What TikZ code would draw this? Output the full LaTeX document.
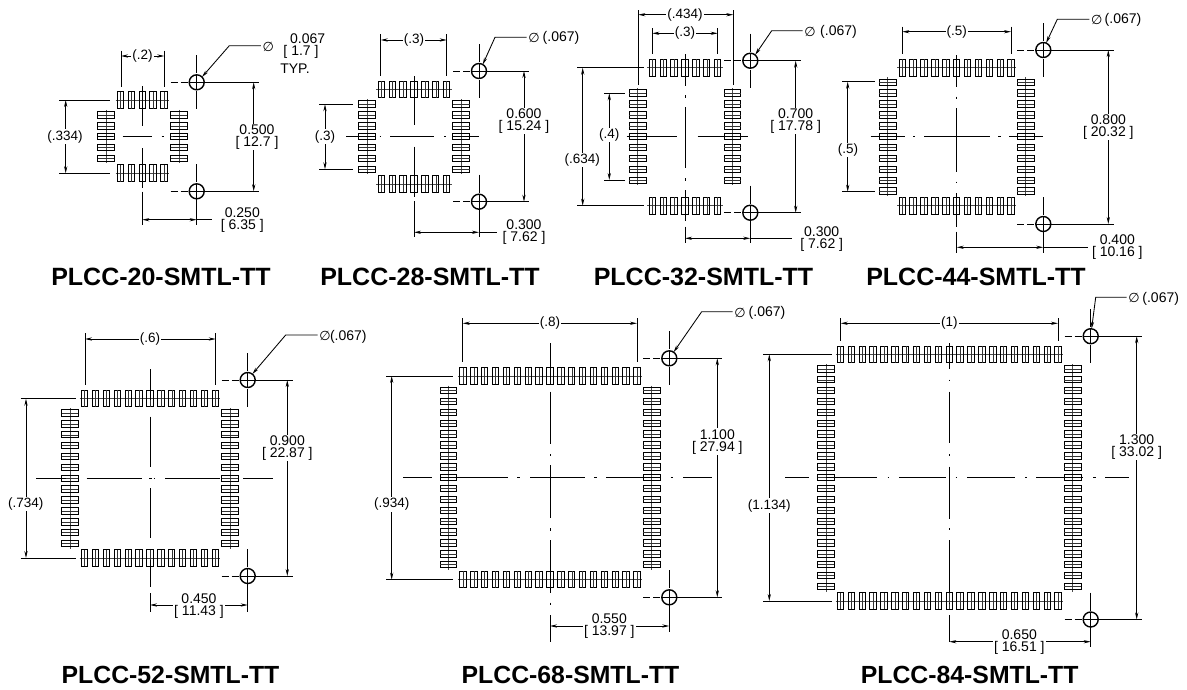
\documentclass[tikz,border=0pt]{standalone}
\usepackage{fontspec}
\setmainfont{Liberation Sans}
\newfontfamily\phifont{DejaVu Sans}
\newcommand{\phig}{\raisebox{-1pt}[\height][\depth]{\phifont\fontsize{13}{12}\selectfont ∅}}
\usetikzlibrary{arrows.meta}
\tikzset{
  ln/.style={line width=.85pt,black},
  dimln/.style={line width=.85pt,black,{Stealth[length=7pt,width=3.2pt]}-{Stealth[length=7pt,width=3.2pt]}},
  lead/.style={line width=.85pt,black,-{Stealth[length=7pt,width=3.2pt]}},
  cl/.style={line width=1pt,black},
  rowln/.style={line width=.55pt,black!70},
  padbox/.style={line width=1pt,black},
  padin/.style={line width=.5pt,black!80},
  holec/.style={circle,draw,line width=1.4pt,minimum size=15pt,inner sep=0pt,outer sep=0pt},
  dimt/.style={font=\fontsize{14}{12}\selectfont,align=center,fill=white,inner sep=1pt},
  part/.style={font=\fontsize{13.5}{12}\selectfont,fill=white,inner sep=1pt},
  plaint/.style={font=\fontsize{14}{12}\selectfont,align=center,inner sep=1pt},
  phit/.style={inner sep=1.5pt},
  title/.style={font=\fontsize{25}{25}\bfseries\selectfont,inner sep=0pt},
  titleb/.style={font=\fontsize{24.8}{25}\bfseries\selectfont,inner sep=0pt},
}
% #1 cx, #2 cy, #3 pads top, #4 pads side, #5 half y of top/bottom rows, #6 half x of side columns
\newcommand{\pads}[6]{%
  \pgfmathsetmacro{\topspan}{(#3-1)/2*10.88}
  \pgfmathsetmacro{\sidespan}{(#4-1)/2*10.88}
  \foreach \sgn in {-1,1}{%
    \pgfmathsetmacro{\ry}{#2+\sgn*#5}
    \pgfmathsetmacro{\rx}{#1+\sgn*#6}
    \draw[rowln] (#1-\topspan-5,\ry) -- (#1+\topspan+5,\ry);
    \draw[rowln] (\rx,#2-\sidespan-5) -- (\rx,#2+\sidespan+5);
    \foreach \i in {1,...,#3}{%
      \pgfmathsetmacro{\px}{#1-\topspan+(\i-1)*10.88}
      \draw[padbox] (\px-3.2,\ry-8.3) rectangle (\px+3.2,\ry+8.3);
      \draw[padin] (\px,\ry-8.3) -- (\px,\ry+8.3);
    }
    \foreach \i in {1,...,#4}{%
      \pgfmathsetmacro{\py}{#2-\sidespan+(\i-1)*10.88}
      \draw[padbox] (\rx-8.3,\py-3.2) rectangle (\rx+8.3,\py+3.2);
      \draw[padin] (\rx-8.3,\py) -- (\rx+8.3,\py);
    }
  }
}
\newcommand{\clh}[2]{\foreach \a/\b in {#2} \draw[cl] (\a,#1) -- (\b,#1);}
\newcommand{\clv}[2]{\foreach \a/\b in {#2} \draw[cl] (#1,\a) -- (#1,\b);}
% hole with its centre marks: #1 name, #2 x, #3 y
\newcommand{\hole}[3]{%
  \node[holec] (#1) at (#2,#3) {};
  \draw[ln] (#1.west) -- (#1.east) (#1.north) -- (#1.south);
  \draw[cl] (#2-26,#3) -- (#2-19,#3) (#2-16,#3) -- (#2-9,#3) (#2,#3-27) -- (#2,#3-9);
}
\newcommand{\holetop}[3]{\hole{#1}{#2}{#3}\draw[cl] (#2,#3+9) -- (#2,#3+27);}
\begin{document}
\begin{tikzpicture}[x=1pt,y=-1pt]
\useasboundingbox (0,0) rectangle (1187,689);

% ---------- PLCC-20
\pads{142.3}{136.7}{5}{5}{36.5}{36.5}
\clh{136.7}{97.7/113,122.7/151.7,161.7/164,173/188}
\clv{142.3}{86/126,148.3/188.3}
\holetop{h20a}{196.7}{82.3}
\hole{h20b}{196.7}{191.3}
\draw[ln] (121,50.7) -- (121,87) (164.3,50.7) -- (164.3,87);
\draw[dimln] (121,56) -- (164.3,56);
\node[part] (d20a) at (142.5,56) {(.2)};
\draw[ln] (59,100) -- (110,100) (59,173.3) -- (110,173.3);
\draw[dimln] (65.7,100) -- (65.7,173.3);
\node[part] (d20b) at (65,136.7) {(.334)};
\draw[ln] (h20a.east) -- (259,82.3) (h20b.east) -- (259,191.3);
\draw[dimln] (253.7,82.3) -- (253.7,191.3);
\node[dimt] (d20c) at (257,137) {0.500\\{}[ 12.7 ]};
\draw[ln] (142.3,191.7) -- (142.3,225) (h20b.south) -- (196.7,225);
\draw[dimln] (142.3,219.7) -- (196.7,219.7);
\draw[ln] (196.7,219.7) -- (211.7,219.7);
\node[dimt] (d20d) at (242.3,220.3) {0.250\\{}[ 6.35 ]};
\node[phit] (p20) at (268.3,45.7) {\phig};
\draw[lead] (p20.west) -- (229.3,45.7) -- (h20a.45);
\node[plaint] (v20a) at (301,46) {\hspace*{13.4pt}0.067\\{}[ 1.7 ]};
\node[plaint] (v20c) at (295,68.3) {TYP.};
\node[title] (t20) at (161,277.3) {PLCC-20-SMTL-TT};

% ---------- PLCC-28
\pads{414}{136.7}{7}{7}{47.2}{47.2}
\clh{136.7}{346/375,379.5/380.5,390/434,444/446,453.3/479.3}
\clv{414}{76/125,146.7/196.7,201/237}
\holetop{h28a}{479}{71}
\hole{h28b}{479}{201.7}
\draw[ln] (380.7,34.3) -- (380.7,76) (446.7,34.3) -- (446.7,76);
\draw[dimln] (380.7,40) -- (446.7,40);
\node[part] (d28a) at (414,40) {(.3)};
\draw[ln] (319,104.3) -- (353.3,104.3) (319,169.3) -- (353.3,169.3);
\draw[dimln] (325,104.3) -- (325,169.3);
\node[part] (d28b) at (325,136.7) {(.3)};
\draw[ln] (h28a.east) -- (529.3,71) (h28b.east) -- (529.3,201.7);
\draw[dimln] (524,71) -- (524,201.7);
\node[dimt] (d28c) at (524,121) {0.600\\{}[ 15.24 ]};
\draw[ln] (h28b.south) -- (479,237);
\draw[dimln] (414,232.3) -- (479,232.3);
\draw[ln] (479,232.3) -- (496.7,232.3);
\node[dimt] (d28d) at (524,232.5) {0.300\\{}[ 7.62 ]};
\node[phit] (p28) at (534,37.3) {\phig};
\node[plaint] (v28) at (561,38) {(.067)};
\draw[lead] (p28.west) -- (495,37.3) -- (h28a.60);
\node[title] (t28) at (430,277.3) {PLCC-28-SMTL-TT};

% ---------- PLCC-32
\pads{685}{136.7}{7}{9}{69}{47.3}
\clh{136.7}{626.7/676.7,697.7/747.7}
\clv{685}{54.3/86,95/97.7,107.3/168.3,178.3/180.7,190/220.7,226.7/243}
\holetop{h32a}{750.3}{60.7}
\hole{h32b}{750.3}{212.7}
\draw[ln] (638.3,10) -- (638.3,85) (733.3,10) -- (733.3,85);
\draw[dimln] (638.3,14.7) -- (733.3,14.7);
\node[part] (d32a) at (685,14.7) {(.434)};
\draw[ln] (652.3,28.3) -- (652.3,54.3) (717.7,28.3) -- (717.7,54.3);
\draw[dimln] (652.3,33.3) -- (717.7,33.3);
\node[part] (d32b) at (685,33.3) {(.3)};
\draw[ln] (577.3,67.7) -- (644,67.7) (577.3,205.7) -- (644,205.7);
\draw[dimln] (582.7,67.7) -- (582.7,205.7);
\node[part] (d32c) at (582.3,160) {(.634)};
\draw[ln] (604.3,93.3) -- (625,93.3) (604.3,180) -- (625,180);
\draw[dimln] (609.3,93.3) -- (609.3,180);
\node[part] (d32d) at (609.3,135) {(.4)};
\draw[ln] (h32a.east) -- (800.7,60.7) (h32b.east) -- (800.7,212.7);
\draw[dimln] (795.7,60.7) -- (795.7,212.7);
\node[dimt] (d32e) at (795.7,121) {0.700\\{}[ 17.78 ]};
\draw[ln] (h32b.south) -- (750.3,243);
\draw[dimln] (685,238.3) -- (750.3,238.3);
\draw[ln] (750.3,238.3) -- (791.7,238.3);
\node[dimt] (d32f) at (821.7,238.7) {0.300\\{}[ 7.62 ]};
\node[phit] (p32) at (810,30.7) {\phig};
\node[plaint] (v32) at (838.5,31.5) {(.067)};
\draw[lead] (p32.west) -- (771.7,30.7) -- (h32a.50);
\node[title] (t32) at (703.5,277.3) {PLCC-32-SMTL-TT};

% ---------- PLCC-44
\pads{956.7}{136.7}{11}{11}{69}{69}
\clh{136.7}{870.7/905,913.3/915.3,924/990,998.3/1000.7,1009.3/1042.7}
\clv{956.7}{55/87.3,96.7/99,108.3/171.7,181.7/183.3,193.3/226.7,231.7/252.7}
\holetop{h44a}{1043.3}{50}
\hole{h44b}{1043.3}{224}
\draw[ln] (902.3,26.7) -- (902.3,54.3) (1011,26.7) -- (1011,54.3);
\draw[dimln] (902.3,31.7) -- (1011,31.7);
\node[part] (d44a) at (956.7,31.7) {(.5)};
\draw[ln] (842.3,81.7) -- (875,81.7) (842.3,191.7) -- (875,191.7);
\draw[dimln] (847.7,81.7) -- (847.7,191.7);
\node[part] (d44b) at (848,150) {(.5)};
\draw[ln] (h44a.east) -- (1114,50) (h44b.east) -- (1114,224);
\draw[dimln] (1108.3,50) -- (1108.3,224);
\node[dimt] (d44c) at (1108.3,127) {0.800\\{}[ 20.32 ]};
\draw[ln] (h44b.south) -- (1043.3,252.7);
\draw[dimln] (956.7,247.3) -- (1043.3,247.3);
\draw[ln] (1043.3,247.3) -- (1088,247.3);
\node[dimt] (d44d) at (1117.3,247) {0.400\\{}[ 10.16 ]};
\node[phit] (p44) at (1096.7,19.3) {\phig};
\node[plaint] (v44) at (1123,20) {(.067)};
\draw[lead] (p44.west) -- (1057.3,19.3) -- (h44a.68);
\node[title] (t44) at (976,277.3) {PLCC-44-SMTL-TT};

% ---------- PLCC-52
\pads{150}{478.3}{13}{13}{79.8}{80}
\clh{478.3}{36/66,86.7/141.7,149.3/151.5,153.5/155,165/220,243.3/272.7}
\clv{150}{369.3/400,416.7/466.7,488.3/538.3,560/586.7,593/611.7}
\holetop{h52a}{247.7}{380}
\hole{h52b}{247.7}{576}
\draw[ln] (85,333.3) -- (85,385) (215.7,333.3) -- (215.7,385);
\draw[dimln] (85,339) -- (215.7,339);
\node[part] (d52a) at (150,339) {(.6)};
\draw[ln] (20.7,398.7) -- (76,398.7) (20.7,558) -- (76,558);
\draw[dimln] (26,398.7) -- (26,558);
\node[part] (d52b) at (25.7,504) {(.734)};
\draw[ln] (h52a.east) -- (293.3,380) (h52b.east) -- (293.3,576);
\draw[dimln] (287.3,380) -- (287.3,576);
\node[dimt] (d52c) at (287.3,448) {0.900\\{}[ 22.87 ]};
\draw[ln] (h52b.south) -- (247.7,611.7);
\draw[dimln] (150,605) -- (247.7,605);
\node[dimt] (d52d) at (199,606.3) {0.450\\{}[ 11.43 ]};
\node[phit] (p52) at (325,335) {\phig};
\node[plaint] (v52) at (348.3,337) {(.067)};
\draw[lead] (p52.west) -- (285.7,335) -- (h52a.52);
\node[titleb] (t52) at (170.5,675) {PLCC-52-SMTL-TT};

% ---------- PLCC-68
\pads{550}{477.7}{17}{17}{101.7}{101.7}
\clh{477.7}{403.3/431.7,440/507.7,517.3/520,530/585,594/596.7,606/660,670.7/673.3,683.3/711.7}
\clv{550}{343.3/384,391.7/444,454/456,465/518.3,528.3/530.7,540/593.3,602.7/605,615/641.7}
\holetop{h68a}{669.3}{358.3}
\hole{h68b}{669.3}{597.3}
\draw[ln] (462.7,318.3) -- (462.7,362.3) (637,318.3) -- (637,362.3);
\draw[dimln] (462.7,323.3) -- (637,323.3);
\node[part] (d68a) at (550,323.3) {(.8)};
\draw[ln] (386,376) -- (452.7,376) (386,579.7) -- (452.7,579.7);
\draw[dimln] (391.7,376) -- (391.7,579.7);
\node[part] (d68b) at (391.7,504.3) {(.934)};
\draw[ln] (h68a.east) -- (721.7,358.3) (h68b.east) -- (721.7,597.3);
\draw[dimln] (717.3,358.3) -- (717.3,597.3);
\node[dimt] (d68c) at (717.3,441.7) {1.100\\{}[ 27.94 ]};
\draw[ln] (h68b.south) -- (669.3,631.7);
\draw[dimln] (550,626) -- (669.3,626);
\node[dimt] (d68d) at (609.3,626.3) {0.550\\{}[ 13.97 ]};
\node[phit] (p68) at (740,311.7) {\phig};
\node[plaint] (v68) at (767,312.5) {(.067)};
\draw[lead] (p68.west) -- (701.7,311.7) -- (h68a.55);
\node[titleb] (t68) at (570.5,675) {PLCC-68-SMTL-TT};

% ---------- PLCC-84
\pads{949.3}{477.7}{21}{21}{123.4}{123.4}
\clh{477.7}{785/809.3,826/877.3,887.5/889,899/945.7,955.7/957,967/1015,1025/1026.7,1036/1083,1093/1096,1105/1129}
\clv{949.3}{343.3/369,379.5/381,391.7/443.3,454/455.7,466.7/519.3,528.3/530,540/592.7,603.3/604.3,615/641.7}
\holetop{h84a}{1090.7}{336.2}
\hole{h84b}{1090.7}{619.5}
\draw[ln] (840.7,318.3) -- (840.7,340.7) (1058,318.3) -- (1058,340.7);
\draw[dimln] (840.7,323.3) -- (1058,323.3);
\node[part] (d84a) at (949.3,323.3) {(1)};
\draw[ln] (763.3,354.3) -- (831.7,354.3) (763.3,601) -- (831.7,601);
\draw[dimln] (769.3,354.3) -- (769.3,601);
\node[part] (d84b) at (769.3,505.7) {(1.134)};
\draw[ln] (h84a.east) -- (1141.7,336.2) (h84b.east) -- (1141.7,619.5);
\draw[dimln] (1136.7,336.2) -- (1136.7,619.5);
\node[dimt] (d84c) at (1136.7,447) {1.300\\{}[ 33.02 ]};
\draw[ln] (h84b.south) -- (1090.7,647);
\draw[dimln] (949.3,641.7) -- (1090.7,641.7);
\node[dimt] (d84d) at (1019.3,642) {0.650\\{}[ 16.51 ]};
\node[phit] (p84) at (1134,297.3) {\phig};
\node[plaint] (v84) at (1160.7,298.5) {(.067)};
\draw[lead] (p84.west) -- (1095.7,297.3) -- (h84a.83);
\node[titleb] (t84) at (969.7,675) {PLCC-84-SMTL-TT};
\end{tikzpicture}
\end{document}
